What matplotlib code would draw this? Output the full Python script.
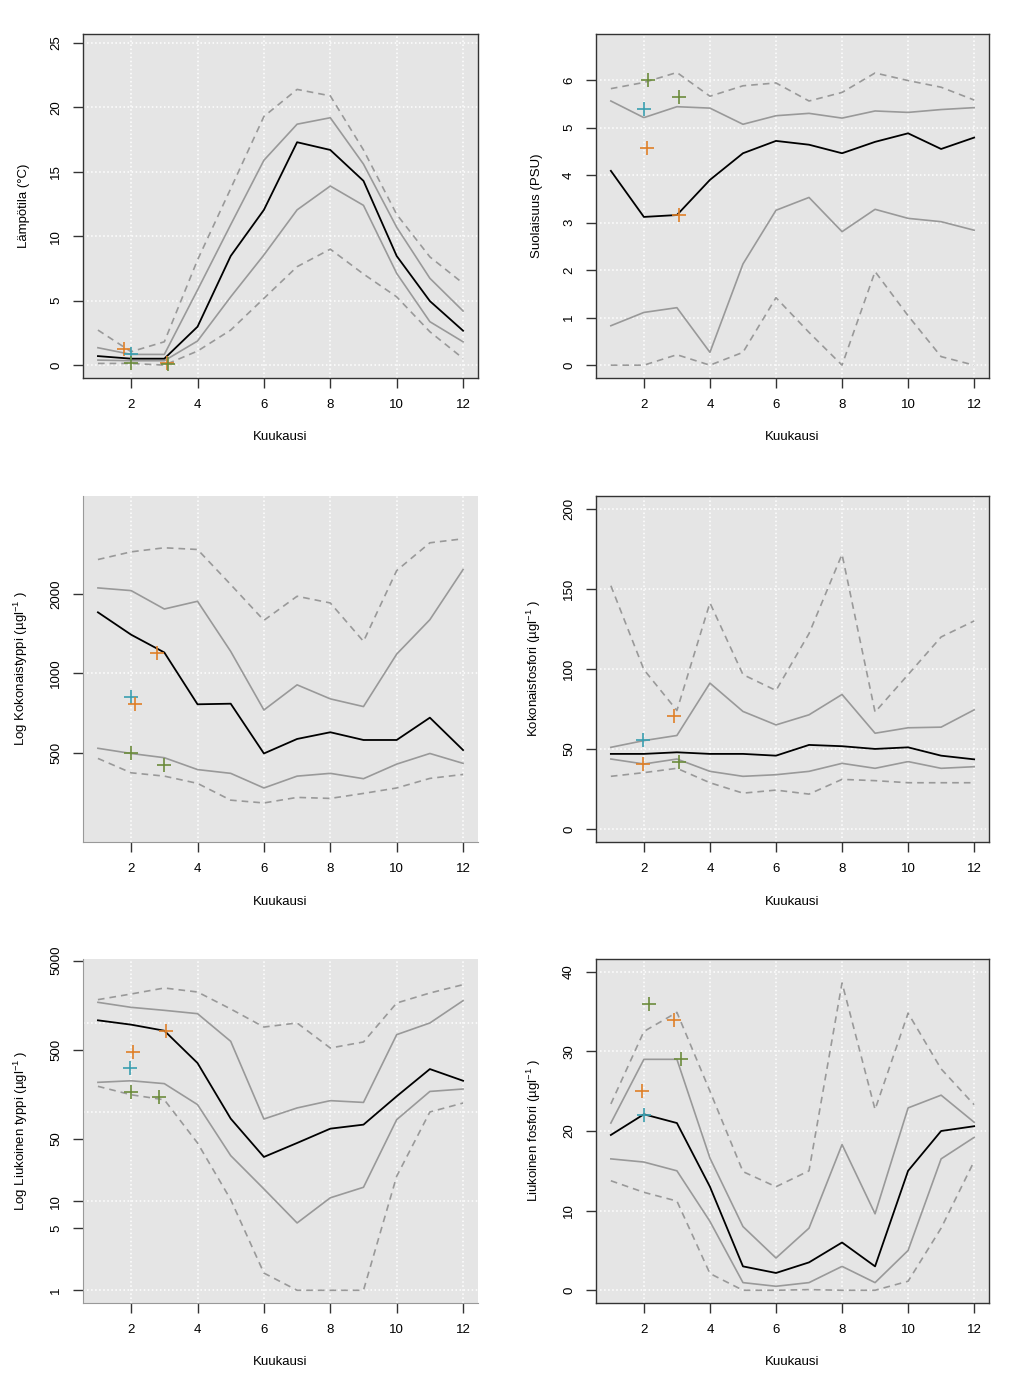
import numpy as np
import matplotlib
matplotlib.use('Agg')
import matplotlib.pyplot as plt
from matplotlib.ticker import FixedLocator, NullLocator, FixedFormatter

plt.rcParams['font.family'] = ['Liberation Sans', 'DejaVu Sans']
plt.rcParams['font.size'] = 9
plt.rcParams['mathtext.fontset'] = 'custom'
plt.rcParams['mathtext.rm'] = 'Liberation Sans'
plt.rcParams['mathtext.default'] = 'regular'

months = [1, 2, 3, 4, 5, 6, 7, 8, 9, 10, 11, 12]

# lampotila
temp_med = [0.70, 0.5, 0.5, 2.98, 8.47, 12.05, 17.3, 16.7, 14.3, 8.47, 4.97, 2.67]
temp_q75 = [1.35, 0.83, 0.83, 5.83, 10.9, 15.9, 18.7, 19.2, 15.6, 10.7, 6.74, 4.2]
temp_q25 = [0.39, 0.34, 0.34, 1.87, 5.3, 8.55, 12.05, 13.9, 12.4, 7.12, 3.37, 1.81]
temp_hi = [2.72, 1.04, 1.81, 8.16, 13.7, 19.3, 21.4, 20.9, 16.7, 11.7, 8.4, 6.35]
temp_lo = [0.13, 0.13, 0.0, 1.09, 2.72, 5.18, 7.64, 9.0, 7.07, 5.3, 2.59, 0.52]
temp_obs_x = [1.8, 2.0, 2.0, 3.08, 3.1]
temp_obs_y = [1.22, 0.83, 0.13, 0.13, 0.05]
temp_obs_c = ['orange', 'teal', 'green', 'orange', 'green']

# suolaisuus
sal_med = [4.09, 3.12, 3.16, 3.9, 4.46, 4.72, 4.64, 4.46, 4.70, 4.88, 4.55, 4.79]
sal_q75 = [5.56, 5.21, 5.44, 5.41, 5.07, 5.25, 5.30, 5.20, 5.35, 5.32, 5.38, 5.42]
sal_q25 = [0.83, 1.11, 1.21, 0.27, 2.13, 3.26, 3.53, 2.81, 3.28, 3.09, 3.02, 2.84]
sal_hi = [5.82, 5.95, 6.16, 5.66, 5.88, 5.94, 5.56, 5.74, 6.15, 5.99, 5.85, 5.58]
sal_lo = [0.0, 0.0, 0.22, 0.0, 0.27, 1.42, 0.69, 0.0, 1.97, 1.04, 0.18, 0.0]
sal_obs_x = [2.13, 2.0, 3.05, 2.1, 3.05]
sal_obs_y = [6.0, 5.40, 5.64, 4.57, 3.16]
sal_obs_c = ['green', 'teal', 'green', 'orange', 'orange']

# kokonaistyppi
tn_med = [1701, 1399, 1198, 762, 766, 496, 563, 597, 558, 558, 678, 511]
tn_q75 = [2105, 2056, 1751, 1873, 1209, 725, 903, 799, 747, 1181, 1595, 2471]
tn_q25 = [519, 496, 478, 431, 417, 367, 407, 417, 398, 452, 496, 455]
tn_hi = [2697, 2884, 2988, 2944, 2167, 1586, 1957, 1846, 1320, 2449, 3121, 3232]
tn_lo = [475, 419, 407, 382, 330, 322, 338, 335, 350, 367, 399, 413]
tn_obs_x = [2.78, 2.0, 2.13, 2.0, 2.98]
tn_obs_y = [1191, 811, 765, 496, 447]
tn_obs_c = ['orange', 'teal', 'orange', 'green', 'green']

# kokonaisfosfori
tp_med = [47.0, 47.0, 48.0, 47.0, 47.0, 45.9, 52.6, 51.8, 50.1, 51.1, 45.9, 43.6]
tp_q75 = [51.1, 55.3, 58.5, 91.2, 73.5, 65.1, 71.4, 84.1, 59.9, 63.3, 63.7, 74.5]
tp_q25 = [43.8, 40.7, 43.8, 36.1, 33.0, 34.0, 36.1, 41.1, 38.0, 42.2, 38.0, 39.0]
tp_hi = [152, 99.6, 74.1, 141.3, 96.5, 86.6, 122.1, 171.6, 73.1, 96.5, 120, 130]
tp_lo = [33.0, 35.3, 38.0, 29.0, 22.5, 24.4, 21.9, 31.1, 30.3, 29.0, 29.0, 29.0]
tp_obs_x = [1.98, 2.9, 1.98, 3.07]
tp_obs_y = [55.7, 70.8, 40.7, 42.2]
tp_obs_c = ['teal', 'orange', 'orange', 'green']

# liukoinen typpi
dn_med = [1067, 954, 816, 354, 84.2, 31.3, 44.9, 65, 72.1, 150, 303, 224]
dn_q75 = [1698, 1492, 1381, 1267, 620, 83.4, 111, 134, 128, 737, 996, 1773]
dn_q25 = [215, 224, 208, 121, 32.4, 13.7, 5.69, 10.9, 14.3, 82.0, 170, 181]
dn_hi = [1820, 2106, 2459, 2217, 1430, 897, 996, 522, 610, 1669, 2161, 2680]
dn_lo = [194, 156, 137, 44.9, 10.4, 1.56, 1.0, 1.0, 1.0, 19.0, 100, 126]
dn_obs_x = [3.06, 2.06, 1.98, 2.0, 2.83]
dn_obs_y = [816, 467, 311, 166, 147]
dn_obs_c = ['orange', 'orange', 'teal', 'green', 'green']

# liukoinen fosfori
dp_med = [19.5, 22.1, 21.0, 13.0, 3.0, 2.17, 3.5, 6.0, 3.0, 15.0, 20.0, 20.6]
dp_q75 = [21.0, 29.0, 29.0, 16.6, 8.0, 4.05, 7.8, 18.3, 9.6, 22.9, 24.5, 21.1]
dp_q25 = [16.5, 16.1, 15.0, 8.65, 0.96, 0.5, 0.96, 3.0, 0.96, 5.0, 16.5, 19.2]
dp_hi = [23.4, 32.5, 34.9, 25.0, 14.9, 13.0, 15.0, 38.6, 22.7, 34.8, 27.8, 23.3]
dp_lo = [13.75, 12.3, 11.2, 2.1, 0.0, 0.0, 0.08, 0.0, 0.0, 1.13, 7.8, 16.2]
dp_obs_x = [2.15, 2.92, 3.12, 1.94, 2.0]
dp_obs_y = [36.0, 34.0, 29.0, 25.0, 22.0]
dp_obs_c = ['green', 'orange', 'green', 'orange', 'teal']

cols = {'orange': '#DF8028', 'teal': '#3A9FB0', 'green': '#6C8C3C'}
gray = '#999999'
bg = '#E5E5E5'

fig = plt.figure(figsize=(10.24, 13.87), dpi=100)

left_x, left_w = 83/1024, 395/1024
right_x, right_w = 596/1024, 393/1024
rows = [(1-378/1387, 344/1387), (1-842/1387, 346/1387), (1-1303/1387, 344/1387)]


def panel(pos, med, q75, q25, hi, lo, ox, oy, oc, ylabel, ylim, yticks,
          ygrid, log=False, box=True):
    ax = fig.add_axes(pos)
    ax.set_facecolor(bg)
    if log:
        ax.set_yscale('log')
    for g in [2, 4, 6, 8, 10, 12]:
        ax.axvline(g, color='white', ls=':', lw=1.1, zorder=1)
    for g in ygrid:
        ax.axhline(g, color='white', ls=':', lw=1.1, zorder=1)
    ax.plot(months, hi, color=gray, lw=1.2, ls=(0, (4, 3)), zorder=2)
    ax.plot(months, lo, color=gray, lw=1.2, ls=(0, (4, 3)), zorder=2)
    ax.plot(months, q75, color=gray, lw=1.2, zorder=3)
    ax.plot(months, q25, color=gray, lw=1.2, zorder=3)
    ax.plot(months, med, color='black', lw=1.3, zorder=4)
    for x, y, c in zip(ox, oy, oc):
        ax.plot(x, y, marker='+', ms=10, mew=1.2, color=cols[c], ls='none',
                zorder=5)
    ax.set_xlim(0.55, 12.45)
    ax.set_ylim(ylim)
    ax.xaxis.set_major_locator(FixedLocator([2, 4, 6, 8, 10, 12]))
    ax.yaxis.set_major_locator(FixedLocator(yticks))
    ax.yaxis.set_major_formatter(FixedFormatter([str(t) for t in yticks]))
    ax.yaxis.set_minor_locator(NullLocator())
    ax.tick_params(length=7, width=1, color='#333333', pad=8, labelsize=9.5)
    ax.tick_params(axis='y', labelrotation=90)
    for lab in ax.get_yticklabels():
        lab.set_va('center')
    if box:
        for s in ax.spines.values():
            s.set_color('#333333')
            s.set_linewidth(1)
    else:
        ax.spines['top'].set_visible(False)
        ax.spines['right'].set_visible(False)
        ax.spines['left'].set_color(gray)
        ax.spines['bottom'].set_color(gray)
    ax.set_xlabel('Kuukausi', fontsize=9.5)
    ax.set_ylabel(ylabel, fontsize=9.5)
    ax.xaxis.set_label_coords(0.5, -0.155)
    ax.yaxis.set_label_coords(-0.135, 0.5)
    return ax


panel([left_x, rows[0][0], left_w, rows[0][1]], temp_med, temp_q75, temp_q25,
      temp_hi, temp_lo, temp_obs_x, temp_obs_y, temp_obs_c,
      'Lämpötila (°C)', (-1.0, 25.7), [0, 5, 10, 15, 20, 25],
      [0, 5, 10, 15, 20, 25])
panel([right_x, rows[0][0], right_w, rows[0][1]], sal_med, sal_q75, sal_q25,
      sal_hi, sal_lo, sal_obs_x, sal_obs_y, sal_obs_c,
      'Suolaisuus (PSU)', (-0.27, 6.97), [0, 1, 2, 3, 4, 5, 6],
      [0, 1, 2, 3, 4, 5, 6])
panel([left_x, rows[1][0], left_w, rows[1][1]], tn_med, tn_q75, tn_q25,
      tn_hi, tn_lo, tn_obs_x, tn_obs_y, tn_obs_c,
      'Log Kokonaistyppi (µgl$^{-1}$ )', (229, 4696), [500, 1000, 2000],
      [1000], log=True, box=False)
panel([right_x, rows[1][0], right_w, rows[1][1]], tp_med, tp_q75, tp_q25,
      tp_hi, tp_lo, tp_obs_x, tp_obs_y, tp_obs_c,
      'Kokonaisfosfori (µgl$^{-1}$ )', (-8, 208), [0, 50, 100, 150, 200],
      [0, 50, 100, 150, 200])
panel([left_x, rows[2][0], left_w, rows[2][1]], dn_med, dn_q75, dn_q25,
      dn_hi, dn_lo, dn_obs_x, dn_obs_y, dn_obs_c,
      'Log Liukoinen typpi (µgl$^{-1}$ )', (0.72, 5200),
      [1, 5, 10, 50, 500, 5000], [1, 10, 100, 1000], log=True, box=False)
panel([right_x, rows[2][0], right_w, rows[2][1]], dp_med, dp_q75, dp_q25,
      dp_hi, dp_lo, dp_obs_x, dp_obs_y, dp_obs_c,
      'Liukoinen fosfori (µgl$^{-1}$ )', (-1.6, 41.6), [0, 10, 20, 30, 40],
      [0, 10, 20, 30, 40])

fig.savefig('out.png', dpi=100, facecolor='white')
